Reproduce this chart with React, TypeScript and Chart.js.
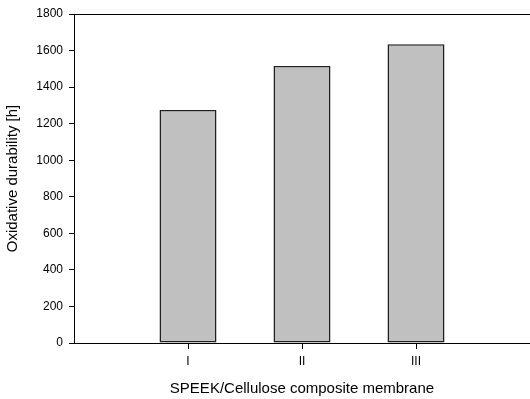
import React, { useEffect, useRef } from "react";
import { Chart, registerables } from "chart.js";

Chart.register(...registerables);

// Category slots: empty slots at both ends give the axis its margins.
const categories = ["", "I", "II", "III", ""];
const durability = [null, 1275, 1515, 1635, null];
const yTicks = [0, 200, 400, 600, 800, 1000, 1200, 1400, 1600, 1800];

const FONT = "'Liberation Sans', Arial, Helvetica, sans-serif";

// Draws the upper frame line across the plot area.
const topFrame = {
  id: "topFrame",
  afterDraw(chart: any) {
    const { ctx, chartArea } = chart;
    ctx.save();
    ctx.strokeStyle = "#000";
    ctx.lineWidth = 1;
    ctx.beginPath();
    ctx.moveTo(chartArea.left, chartArea.top + 0.5);
    ctx.lineTo(chartArea.right, chartArea.top + 0.5);
    ctx.stroke();
    ctx.restore();
  },
};

export default function App() {
  const ref = useRef<HTMLCanvasElement | null>(null);

  useEffect(() => {
    document.body.style.margin = "0";
    if (!ref.current) return;
    const chart = new Chart(ref.current, {
      type: "bar",
      data: {
        labels: categories,
        datasets: [
          {
            data: durability as any,
            backgroundColor: "#c0c0c0",
            borderColor: "#1e1e1e",
            borderWidth: 1.5,
            borderSkipped: false,
            barPercentage: 0.5,
            categoryPercentage: 1,
          },
        ],
      },
      options: {
        responsive: false,
        animation: false,
        devicePixelRatio: 1,
        layout: { padding: { top: 14, right: 0, bottom: 0, left: 0 } },
        plugins: {
          legend: { display: false },
          tooltip: { enabled: false },
        },
        scales: {
          x: {
            type: "category",
            offset: false,
            border: { display: true, color: "#000", width: 1 },
            grid: {
              display: true,
              offset: false,
              drawOnChartArea: false,
              drawTicks: true,
              tickLength: 6,
              tickColor: (c: any) =>
                c.index === 0 || c.index === categories.length - 1
                  ? "rgba(0,0,0,0)"
                  : "#000",
            },
            ticks: {
              color: "#000",
              padding: 5,
              maxRotation: 0,
              autoSkip: false,
              font: { family: FONT, size: 12 },
            },
            title: {
              display: true,
              text: "SPEEK/Cellulose composite membrane",
              color: "#000",
              font: { family: FONT, size: 15 },
              padding: { top: 0, bottom: 1.3 },
            },
            afterFit: (scale: any) => {
              scale.height = 56;
              scale.paddingLeft = 0;
              scale.paddingRight = 0;
            },
          },
          y: {
            min: 0,
            max: 1800,
            afterBuildTicks: (scale: any) => {
              scale.ticks = yTicks.map((v) => ({ value: v }));
            },
            border: { display: true, color: "#000", width: 1 },
            grid: {
              display: true,
              drawOnChartArea: false,
              drawTicks: true,
              tickLength: 5,
              tickColor: "#000",
            },
            ticks: {
              color: "#000",
              padding: 6,
              font: { family: FONT, size: 12 },
              callback: (v: any) => String(v),
            },
            title: {
              display: true,
              text: "Oxidative durability [h]",
              color: "#000",
              font: { family: FONT, size: 15 },
              padding: { top: 4.3, bottom: 0 },
            },
            afterFit: (scale: any) => {
              scale.width = 74;
            },
          },
        },
      },
      plugins: [topFrame],
    });
    return () => chart.destroy();
  }, []);

  return (
    <div style={{ width: 530, height: 399, background: "#fff" }}>
      <canvas ref={ref} width={530} height={399} />
    </div>
  );
}
